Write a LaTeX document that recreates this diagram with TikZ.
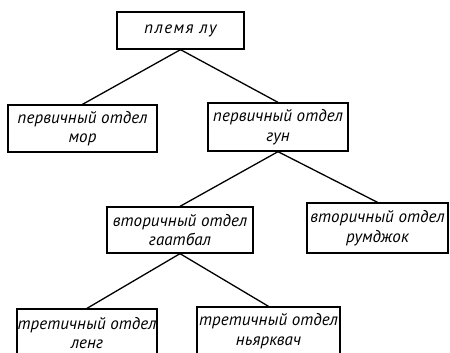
\documentclass[tikz,border=0pt]{standalone}
\usepackage{fontspec}
\setmainfont{PT Sans}
\begin{document}
\begin{tikzpicture}[x=1pt,y=-1pt,
  box/.style={draw,line width=1.3pt,inner sep=0pt,align=center,font=\fontsize{17}{19.5}\selectfont\itshape\addfontfeature{LetterSpace=0.5}},
  link/.style={line width=1.3pt}]
\useasboundingbox (0,0) rectangle (450,353);
\clip (0,0) rectangle (450,353);
\node[box,minimum width=127pt,minimum height=37pt] (lu) at (180.5,30.5) {\addfontfeature{LetterSpace=8}племя лу};
\node[box,minimum width=149pt,minimum height=47pt] (mor) at (82.5,128.5) {первичный отдел\\мор};
\node[box,minimum width=140pt,minimum height=48pt] (gun) at (278,127) {первичный отдел\\гун};
\node[box,minimum width=146pt,minimum height=46pt] (gaat) at (180,230) {вторичный отдел\\гаатбал};
\node[box,minimum width=141pt,minimum height=50pt] (rum) at (377.5,228) {вторичный отдел\\румджок};
\node[box,minimum width=140pt,minimum height=48pt] (leng) at (87,333) {третичный отдел\\ленг};
\node[box,minimum width=143pt,minimum height=48pt] (nyar) at (268.5,331) {третичный отдел\\ньярквач};
\draw[link] (lu.south) -- (mor.north);
\draw[link] (lu.south) -- (gun.north);
\draw[link] (gun.south) -- (gaat.north);
\draw[link] (gun.south) -- (rum.north);
\draw[link] (gaat.south) -- (leng.north);
\draw[link] (gaat.south) -- (nyar.north);
\end{tikzpicture}
\end{document}
